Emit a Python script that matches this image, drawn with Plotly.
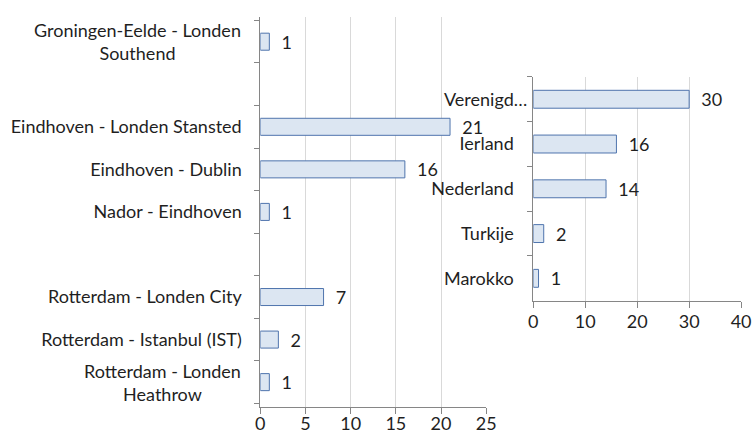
import plotly.graph_objects as go

# Flight routes (blank entries are spacer rows)
routes = [
    "Groningen-Eelde - Londen<br>Southend",
    " ",
    "Eindhoven - Londen Stansted",
    "Eindhoven - Dublin",
    "Nador - Eindhoven",
    "  ",
    "Rotterdam - Londen City",
    "Rotterdam - Istanbul (IST)",
    "Rotterdam - Londen<br>Heathrow",
]
route_counts = [1, None, 21, 16, 1, None, 7, 2, 1]
route_ticks = [0, 5, 10, 15, 20, 25]

# Destination countries
countries = ["Verenigd…", "Ierland", "Nederland", "Turkije", "Marokko"]
country_counts = [30, 16, 14, 2, 1]
country_ticks = [0, 10, 20, 30, 40]

W, H = 760, 439
FONT = "Lato"
FS = 18
TXT = "#1f1f1f"
FILL = "#DCE6F2"
EDGE = "#4F74AD"
GRID = "#D9D9D9"
AXIS = "#868686"


def fx(px):
    return px / 752


def fy(px):
    return 1 - px / 434


fig = go.Figure()

fig.add_trace(go.Bar(
    y=routes, x=route_counts, orientation="h",
    marker=dict(color=FILL, line=dict(color=EDGE, width=1)),
    width=0.4,
    text=[f"  {v}" if v is not None else "" for v in route_counts],
    textposition="outside", cliponaxis=False, constraintext="none",
    textfont=dict(family=FONT, size=FS, color=TXT),
    xaxis="x", yaxis="y", showlegend=False,
))

fig.add_trace(go.Bar(
    y=countries, x=country_counts, orientation="h",
    marker=dict(color=FILL, line=dict(color=EDGE, width=1)),
    width=0.4,
    text=[f"  {v}" for v in country_counts],
    textposition="outside", cliponaxis=False, constraintext="none",
    textfont=dict(family=FONT, size=FS, color=TXT),
    xaxis="x2", yaxis="y2", showlegend=False,
))

# multi-line route labels are centred, so they are drawn as annotations;
# the long country name sits closer to its axis
route_ticktext = ["" if "<br>" in r else r for r in routes]
country_ticktext = ["" if c.endswith("…") else c for c in countries]
annotations = []
for r in routes:
    if "<br>" in r:
        annotations.append(dict(
            x=fx(240), xref="paper", y=r, yref="y",
            text=r, showarrow=False, xanchor="right", align="center",
            font=dict(family=FONT, size=FS, color=TXT),
        ))
for c in countries:
    if c.endswith("…"):
        annotations.append(dict(
            x=fx(529), xref="paper", y=c, yref="y2",
            text=c, showarrow=False, xanchor="right",
            font=dict(family=FONT, size=FS, color=TXT),
        ))

fig.update_layout(
    width=W, height=H,
    margin=dict(l=0, r=0, t=0, b=0),
    paper_bgcolor="white", plot_bgcolor="rgba(0,0,0,0)",
    font=dict(family=FONT, size=FS, color=TXT),
    annotations=annotations,
    xaxis=dict(
        domain=[fx(257.7), fx(485.7)], range=[0, 25], tickvals=route_ticks,
        showgrid=True, gridcolor=GRID, gridwidth=1,
        showline=True, linecolor=AXIS, ticks="outside", ticklen=6,
        tickcolor=AXIS, zeroline=False, anchor="y",
        ticklabelstandoff=-5,
        tickfont=dict(family=FONT, size=FS, color=TXT),
    ),
    yaxis=dict(
        domain=[fy(402), fy(17)], type="category",
        categoryorder="array", categoryarray=routes,
        tickvals=routes, ticktext=route_ticktext,
        autorange="reversed", tickson="boundaries",
        showline=True, linecolor=AXIS, ticks="outside", ticklen=5,
        tickcolor=AXIS, showgrid=False, anchor="x",
        ticklabelstandoff=14,
        tickfont=dict(family=FONT, size=FS, color=TXT),
    ),
    xaxis2=dict(
        domain=[fx(533.3), fx(743)], range=[0, 40], tickvals=country_ticks,
        showgrid=True, gridcolor=GRID, gridwidth=1,
        showline=True, linecolor=AXIS, ticks="outside", ticklen=6,
        tickcolor=AXIS, zeroline=False, anchor="y2",
        ticklabelstandoff=-1,
        tickfont=dict(family=FONT, size=FS, color=TXT),
    ),
    yaxis2=dict(
        domain=[fy(297.3), fy(76)], type="category",
        categoryorder="array", categoryarray=countries,
        tickvals=countries, ticktext=country_ticktext,
        autorange="reversed", tickson="boundaries",
        showline=True, linecolor=AXIS, ticks="outside", ticklen=5,
        tickcolor=AXIS, showgrid=False, anchor="x2",
        ticklabelstandoff=15,
        tickfont=dict(family=FONT, size=FS, color=TXT),
    ),
)

fig.write_html("out.html")
